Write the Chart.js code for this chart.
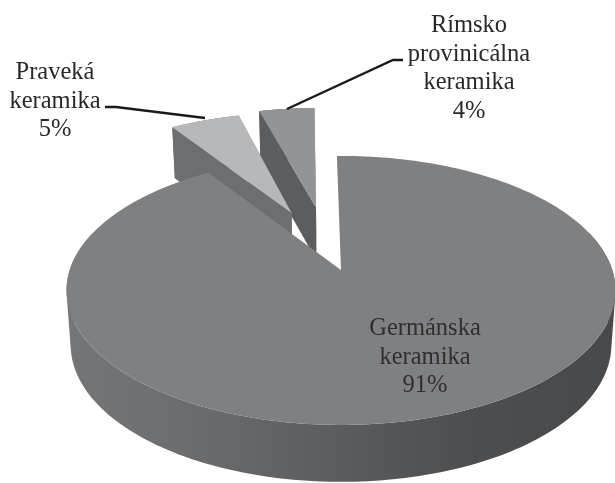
<!DOCTYPE html>
<html>
<head>
<meta charset="utf-8">
<style>html,body{margin:0;padding:0;background:#fff}canvas{display:block}</style>
<script src="https://cdn.jsdelivr.net/npm/chart.js@4/dist/chart.umd.js"></script>
</head>
<body>
<canvas id="c" width="615" height="483"></canvas>
<script>
const categories = ['Germánska keramika', 'Praveká keramika', 'Rímsko provinicálna keramika'];
const values = [91, 5, 4];
const percentLabels = ['91%', '5%', '4%'];

const style = {
  top: ['#7f8082', '#b7b8ba', '#939496'],
  cut: ['#6a6b6d', '#6d6e70', '#5c5d5f'],
  explode: [0, 0.5, 0.5],
  pan: [[0, 0], [3, -1], [-7, -2]],
  drawOrder: [2, 1, 0],
  wallStops: [[66, '#757678'], [200, '#6a6b6d'], [340, '#5b5c5e'], [470, '#4d4e50'], [615, '#48494b']],
  labelAt: [[425, 335], [55, 79], [469, 32]],
  leaders: [[], [[105, 107], [116, 107], [205, 118]], [[287, 109], [393, 60], [403, 60]]]
};

// Perspective of the pie plane
const X0 = 341, Y0 = 270, A = 271.3, B = 131.4, P = 0.152;
function project(u, v) {
  const w = 1 - P * v;
  return [X0 + A * u / w, Y0 + B * v / w];
}
function lower(p) {
  return [X0 + (p[0] - X0) * 0.985, p[1] + 48.4 + 0.02 * p[1]];
}
function area(q) {
  let s = 0;
  q.forEach((p, j) => { const r = q[(j + 1) % q.length]; s += p[0] * r[1] - r[0] * p[1]; });
  return s;
}

class Pie3D extends Chart.DoughnutController {
  draw() {
    const ctx = this.chart.ctx;
    const meta = this.getMeta();
    const ds = this.getDataset();
    style.drawOrder.forEach(i => {
      const el = meta.data[i];
      const mid = (el.startAngle + el.endAngle) / 2;
      const e = ds.explode[i];
      const ox = Math.cos(mid) * e, oy = Math.sin(mid) * e;
      const pan = ds.pan[i];
      const pt = (u, v) => { const p = project(u + ox, v + oy); return [p[0] + pan[0], p[1] + pan[1]]; };
      const apex = pt(0, 0);
      const arc = [], near = [];
      const n = 240;
      for (let k = 0; k <= n; k++) {
        const t = el.startAngle + (el.endAngle - el.startAngle) * k / n;
        arc.push(pt(Math.cos(t), Math.sin(t)));
        near.push(Math.sin(t) > -0.3);
      }
      const poly = (pts, fill) => {
        ctx.beginPath();
        pts.forEach((p, j) => j ? ctx.lineTo(p[0], p[1]) : ctx.moveTo(p[0], p[1]));
        ctx.closePath();
        ctx.fillStyle = fill;
        ctx.fill();
      };
      if (i === 0) {
        const wall = ctx.createLinearGradient(66, 0, 615, 0);
        style.wallStops.forEach(s => wall.addColorStop((s[0] - 66) / 549, s[1]));
        ctx.beginPath();
        for (let k = 0; k < n; k++) {
          if (!near[k] || !near[k + 1]) continue;
          let q = [arc[k], arc[k + 1], lower(arc[k + 1]), lower(arc[k])];
          if (area(q) < 0) q = q.reverse();
          q.forEach((p, j) => j ? ctx.lineTo(p[0], p[1]) : ctx.moveTo(p[0], p[1]));
          ctx.closePath();
        }
        ctx.fillStyle = wall;
        ctx.fill();
      } else {
        const a0 = arc[0], a1 = arc[n];
        poly(arc.concat(arc.map(lower).reverse()), ds.cut[i]);
        poly([a1, apex, lower(apex), lower(a1)], ds.cut[i]);
        poly([a0, apex, lower(apex), lower(a0)], ds.cut[i]);
      }
      poly([apex].concat(arc), ds.backgroundColor[i]);
    });
  }
}
Pie3D.id = 'pie3d';
Pie3D.defaults = Chart.DoughnutController.defaults;
Pie3D.overrides = Chart.DoughnutController.overrides;
Chart.register(Pie3D);

const textPlugin = {
  id: 'sliceText',
  afterDatasetsDraw(chart) {
    const ctx = chart.ctx;
    ctx.save();
    ctx.strokeStyle = '#1b1a1b';
    ctx.lineWidth = 2.4;
    style.leaders.forEach(l => {
      if (!l.length) return;
      ctx.beginPath();
      l.forEach((p, j) => j ? ctx.lineTo(p[0], p[1]) : ctx.moveTo(p[0], p[1]));
      ctx.stroke();
    });
    ctx.font = '24.5px "Liberation Serif"';
    ctx.textAlign = 'center';
    ctx.textBaseline = 'alphabetic';
    categories.forEach((c, i) => {
      ctx.fillStyle = i === 0 ? '#2f2e30' : '#2a2728';
      const lines = c.split(' ').concat(percentLabels[i]);
      lines.forEach((t, j) => ctx.fillText(t, style.labelAt[i][0], style.labelAt[i][1] + j * 28.5));
    });
    ctx.restore();
  }
};

new Chart(document.getElementById('c'), {
  type: 'pie3d',
  data: {
    labels: categories,
    datasets: [{
      data: values,
      backgroundColor: style.top,
      cut: style.cut,
      explode: style.explode,
      pan: style.pan,
      clip: false
    }]
  },
  options: {
    responsive: false,
    animation: false,
    cutout: 0,
    rotation: -1,
    events: [],
    plugins: { legend: { display: false }, tooltip: { enabled: false } }
  },
  plugins: [textPlugin]
});
</script>
</body>
</html>
